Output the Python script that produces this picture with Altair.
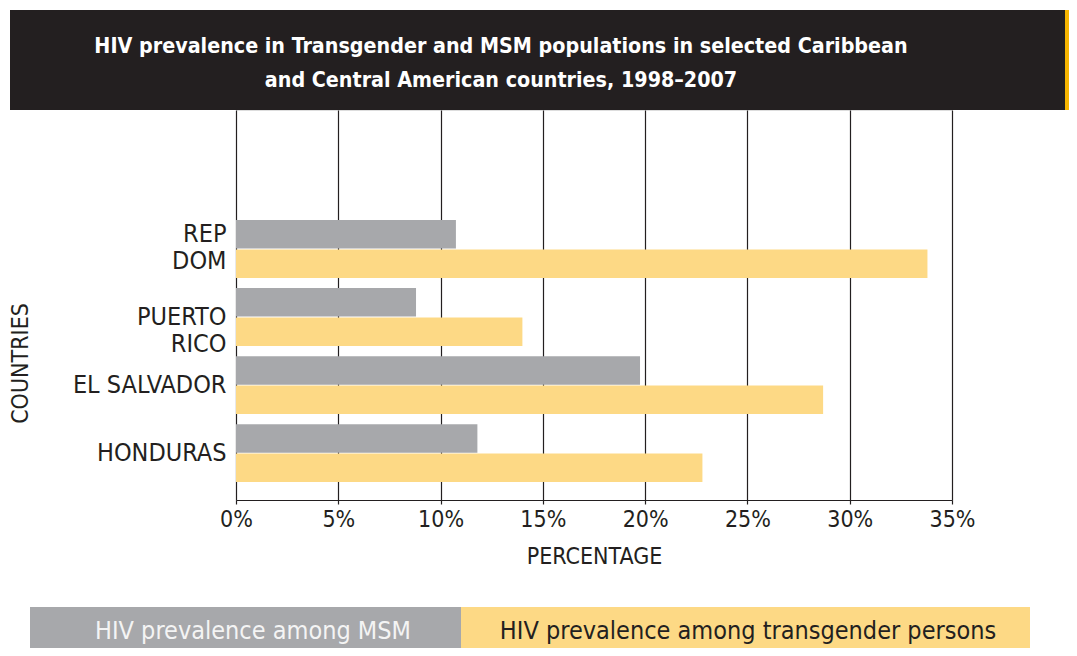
import altair as alt
import pandas as pd

countries = ["REP\nDOM", "PUERTO\nRICO", "EL SALVADOR", "HONDURAS"]
msm = [10.75, 8.8, 19.75, 11.8]
transgender = [33.8, 14.0, 28.7, 22.8]
series = ["HIV prevalence among MSM", "HIV prevalence among transgender persons"]
colors = ["#a7a8ab", "#fdd985"]
x_ticks = [0, 5, 10, 15, 20, 25, 30, 35]
title_lines = ["HIV prevalence in Transgender and MSM populations in selected Caribbean",
               "and Central American countries, 1998\u20132007"]

rows = []
for c, m, t in zip(countries, msm, transgender):
    rows.append({"country": c, "series": series[0], "value": m})
    rows.append({"country": c, "series": series[1], "value": t})
df = pd.DataFrame(rows)

FONT = "'DejaVu Sans Condensed', 'Liberation Sans Narrow', 'Open Sans', sans-serif"
INK = "#231f20"
W, H = 716, 390

bars = alt.Chart(df).mark_bar(cornerRadius=0).encode(
    x=alt.X("value:Q",
            scale=alt.Scale(domain=[0, 35], nice=False),
            axis=alt.Axis(values=x_ticks, labelExpr="datum.value + '%'",
                          labelFlush=False,
                          title="PERCENTAGE", grid=True, gridColor=INK, gridOpacity=1,
                          gridWidth=1.2, domainColor=INK, domainWidth=1.2,
                          tickColor=INK, tickSize=4, tickWidth=1.2,
                          labelFont=FONT, labelFontSize=23, labelColor=INK, labelPadding=4,
                          titleFont=FONT, titleFontSize=23, titleFontWeight="normal",
                          titleColor=INK, titlePadding=14)),
    y=alt.Y("country:N", sort=countries,
            scale=alt.Scale(paddingInner=0.15, paddingOuter=0.94, align=0.86),
            axis=alt.Axis(title="COUNTRIES", ticks=False, domain=False,
                          labelExpr="split(datum.label, '\\n')",
                          labelOffset={"condition": {"test": "indexof(datum.label, 'REP') == 0",
                                                     "value": -15},
                                       "value": 0},
                          labelFont=FONT, labelFontSize=25, labelColor=INK,
                          labelLineHeight=27, labelPadding=10,
                          titleFont=FONT, titleFontSize=23, titleFontWeight="normal",
                          titleColor=INK, titleX=-216, titleY=H / 2 + 58,
                          titleBaseline="middle")),
    yOffset=alt.YOffset("series:N", sort=series,
                        scale=alt.Scale(paddingInner=0.03, paddingOuter=0)),
    color=alt.Color("series:N", sort=series,
                    scale=alt.Scale(domain=series, range=colors), legend=None),
)

one = pd.DataFrame({"k": [0]})

# header box
header = alt.Chart(one).mark_rect(color=INK).encode(
    x=alt.value(-226), x2=alt.value(829), y=alt.value(-100), y2=alt.value(0))
header_edge = alt.Chart(one).mark_rect(color="#f7b500").encode(
    x=alt.value(829), x2=alt.value(833), y=alt.value(-100), y2=alt.value(0))
title1 = alt.Chart(pd.DataFrame({"t": [title_lines[0]]})).mark_text(
    font=FONT, fontSize=21.3, fontWeight="bold", color="white", align="center",
    baseline="middle").encode(x=alt.value(265), y=alt.value(-63), text="t:N")
title2 = alt.Chart(pd.DataFrame({"t": [title_lines[1]]})).mark_text(
    font=FONT, fontSize=21.3, fontWeight="bold", color="white", align="center",
    baseline="middle").encode(x=alt.value(265), y=alt.value(-29), text="t:N")

# legend boxes
leg_grey = alt.Chart(one).mark_rect(color=colors[0]).encode(
    x=alt.value(-206), x2=alt.value(225), y=alt.value(497), y2=alt.value(540))
leg_yel = alt.Chart(one).mark_rect(color=colors[1]).encode(
    x=alt.value(225), x2=alt.value(794), y=alt.value(497), y2=alt.value(540))
leg_t1 = alt.Chart(pd.DataFrame({"t": [series[0]]})).mark_text(
    font=FONT, fontSize=25, color="#f4f4f4", align="center", baseline="middle").encode(
    x=alt.value(17), y=alt.value(521), text="t:N")
leg_t2 = alt.Chart(pd.DataFrame({"t": [series[1]]})).mark_text(
    font=FONT, fontSize=25, color=INK, align="center", baseline="middle").encode(
    x=alt.value(512), y=alt.value(521), text="t:N")

chart = alt.layer(header, header_edge, bars, leg_grey, leg_yel, leg_t1, leg_t2,
                  title1, title2).properties(
    width=W, height=H,
    autosize=alt.AutoSizeParams(type="none"),
    padding={"left": 228, "top": 102, "right": 117, "bottom": 148},
).configure_view(stroke=None).configure(background="white")

chart.save("out.html", embed_options={"renderer": "svg", "actions": False})
